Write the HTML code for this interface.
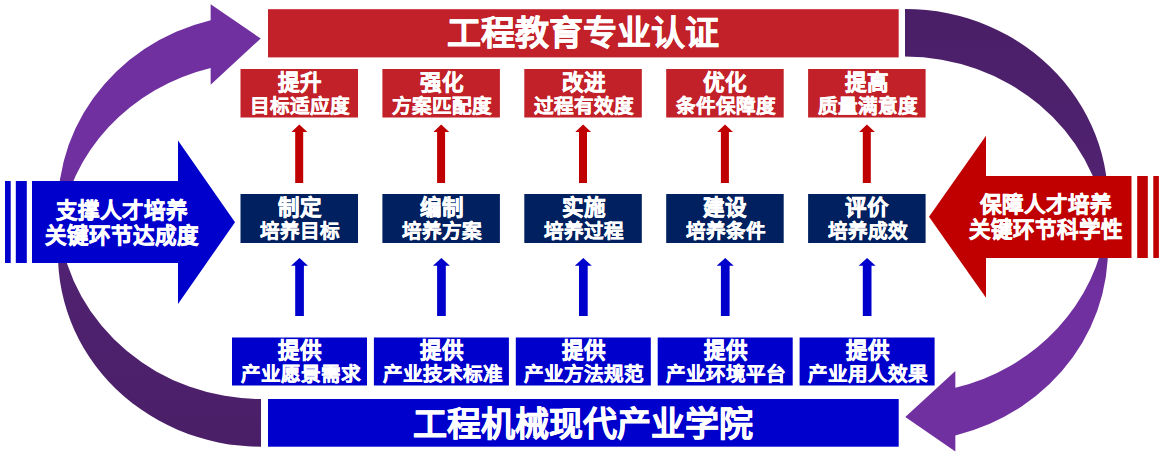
<!DOCTYPE html>
<html lang="zh-CN">
<head>
<meta charset="utf-8">
<title>工程教育专业认证</title>
<style>
html,body{margin:0;padding:0;background:#fff;}
body{width:1168px;height:457px;position:relative;overflow:hidden;font-family:"Liberation Sans",sans-serif;font-weight:bold;color:#fff;}
svg{position:absolute;left:0;top:0;}
.t{position:absolute;white-space:nowrap;text-align:justify;text-align-last:justify;-webkit-text-stroke:0.6px #fff;}
</style>
</head>
<body>
<svg width="1168" height="457" viewBox="0 0 1168 457">
<defs>
<linearGradient id="gL" gradientUnits="userSpaceOnUse" x1="0" y1="4" x2="0" y2="447">
<stop offset="0.37" stop-color="#7030A0"/>
<stop offset="0.6" stop-color="#502271"/>
<stop offset="1" stop-color="#4A1F67"/>
</linearGradient>
</defs>
<path fill="url(#gL)" d="M210.65 20.2 A203 192.4 0 0 0 59.56 230.45 A203 192.4 0 0 1 210.65 67.9 L210.65 84.7 L260.7 38.5 L210.65 4.2 Z M59.56 230.45 A203 192.4 0 0 0 261 446.7 L261 399 A203 192.4 0 0 1 59.56 230.45 Z"/>
<g transform="rotate(180 583 227.8)"><path fill="url(#gL)" d="M210.65 20.2 A203 192.4 0 0 0 59.56 230.45 A203 192.4 0 0 1 210.65 67.9 L210.65 84.7 L260.7 38.5 L210.65 4.2 Z M59.56 230.45 A203 192.4 0 0 0 261 446.7 L261 399 A203 192.4 0 0 1 59.56 230.45 Z"/></g>
<rect x="268" y="9.2" width="630.7" height="48.2" fill="#C32129"/>
<rect x="268" y="399" width="630.7" height="47.7" fill="#0000CC"/>
<rect x="5" y="181" width="5.7" height="82" fill="#0000CC"/>
<rect x="15.8" y="181" width="11" height="82" fill="#0000CC"/>
<path fill="#0000CC" d="M32 181 L178 181 L178 140.6 L235 222.2 L178 304 L178 263 L32 263 Z"/>
<rect x="1153.3" y="176" width="5.6" height="82" fill="#C00000"/>
<rect x="1137.2" y="176" width="10.6" height="82" fill="#C00000"/>
<path fill="#C00000" d="M1131.5 176 L986 176 L986 135.8 L929 216.8 L986 297.8 L986 258 L1131.5 258 Z"/>
<g transform="translate(0.0 0)">
<rect x="240.5" y="69" width="117.5" height="48.5" fill="#C32129"/>
<rect x="240.5" y="194" width="117.5" height="49" fill="#002060"/>
<rect x="232" y="337.5" width="135" height="48" fill="#0000CC"/>
<path fill="#C00000" d="M299.3 124.6 L307.3 132 L303.2 132 L303.2 183 L295.2 183 L295.2 132 L291.5 132 Z"/>
<path fill="#0000CC" d="M299.5 257.9 L308 265.7 L303.9 265.7 L303.9 316 L295.2 316 L295.2 265.7 L291 265.7 Z"/>
</g>
<g transform="translate(141.9 0)">
<rect x="240.5" y="69" width="117.5" height="48.5" fill="#C32129"/>
<rect x="240.5" y="194" width="117.5" height="49" fill="#002060"/>
<rect x="232" y="337.5" width="135" height="48" fill="#0000CC"/>
<path fill="#C00000" d="M299.3 124.6 L307.3 132 L303.2 132 L303.2 183 L295.2 183 L295.2 132 L291.5 132 Z"/>
<path fill="#0000CC" d="M299.5 257.9 L308 265.7 L303.9 265.7 L303.9 316 L295.2 316 L295.2 265.7 L291 265.7 Z"/>
</g>
<g transform="translate(283.8 0)">
<rect x="240.5" y="69" width="117.5" height="48.5" fill="#C32129"/>
<rect x="240.5" y="194" width="117.5" height="49" fill="#002060"/>
<rect x="232" y="337.5" width="135" height="48" fill="#0000CC"/>
<path fill="#C00000" d="M299.3 124.6 L307.3 132 L303.2 132 L303.2 183 L295.2 183 L295.2 132 L291.5 132 Z"/>
<path fill="#0000CC" d="M299.5 257.9 L308 265.7 L303.9 265.7 L303.9 316 L295.2 316 L295.2 265.7 L291 265.7 Z"/>
</g>
<g transform="translate(425.7 0)">
<rect x="240.5" y="69" width="117.5" height="48.5" fill="#C32129"/>
<rect x="240.5" y="194" width="117.5" height="49" fill="#002060"/>
<rect x="232" y="337.5" width="135" height="48" fill="#0000CC"/>
<path fill="#C00000" d="M299.3 124.6 L307.3 132 L303.2 132 L303.2 183 L295.2 183 L295.2 132 L291.5 132 Z"/>
<path fill="#0000CC" d="M299.5 257.9 L308 265.7 L303.9 265.7 L303.9 316 L295.2 316 L295.2 265.7 L291 265.7 Z"/>
</g>
<g transform="translate(567.6 0)">
<rect x="240.5" y="69" width="117.5" height="48.5" fill="#C32129"/>
<rect x="240.5" y="194" width="117.5" height="49" fill="#002060"/>
<rect x="232" y="337.5" width="135" height="48" fill="#0000CC"/>
<path fill="#C00000" d="M299.3 124.6 L307.3 132 L303.2 132 L303.2 183 L295.2 183 L295.2 132 L291.5 132 Z"/>
<path fill="#0000CC" d="M299.5 257.9 L308 265.7 L303.9 265.7 L303.9 316 L295.2 316 L295.2 265.7 L291 265.7 Z"/>
</g>
</svg>
<div class="t" style="left:447.35px;top:16.00px;width:272.00px;font-size:34px;line-height:34px;">工程教育专业认证</div>
<div class="t" style="left:413.35px;top:407.00px;width:340.00px;font-size:34px;line-height:34px;">工程机械现代产业学院</div>
<div class="t" style="left:55.50px;top:198.50px;width:129.00px;font-size:21.5px;line-height:25px;">支撑人才培养</div>
<div class="t" style="left:44.75px;top:223.50px;width:150.50px;font-size:21.5px;line-height:25px;">关键环节达成度</div>
<div class="t" style="left:979.50px;top:193.00px;width:129.00px;font-size:21.5px;line-height:25px;">保障人才培养</div>
<div class="t" style="left:968.75px;top:218.00px;width:150.50px;font-size:21.5px;line-height:25px;">关键环节科学性</div>
<div class="t" style="left:277.75px;top:73.20px;width:43.00px;font-size:21.5px;line-height:21px;">提升</div>
<div class="t" style="left:250.25px;top:97.00px;width:98.00px;font-size:19.6px;line-height:19px;-webkit-text-stroke:0.45px #fff;">目标适应度</div>
<div class="t" style="left:277.75px;top:198.30px;width:43.00px;font-size:21.5px;line-height:21px;">制定</div>
<div class="t" style="left:260.05px;top:222.00px;width:78.40px;font-size:19.6px;line-height:19px;-webkit-text-stroke:0.45px #fff;">培养目标</div>
<div class="t" style="left:277.95px;top:341.20px;width:43.00px;font-size:21.5px;line-height:21px;">提供</div>
<div class="t" style="left:240.65px;top:365.00px;width:117.60px;font-size:19.6px;line-height:19px;-webkit-text-stroke:0.45px #fff;">产业愿景需求</div>
<div class="t" style="left:419.65px;top:73.20px;width:43.00px;font-size:21.5px;line-height:21px;">强化</div>
<div class="t" style="left:392.15px;top:97.00px;width:98.00px;font-size:19.6px;line-height:19px;-webkit-text-stroke:0.45px #fff;">方案匹配度</div>
<div class="t" style="left:419.65px;top:198.30px;width:43.00px;font-size:21.5px;line-height:21px;">编制</div>
<div class="t" style="left:401.95px;top:222.00px;width:78.40px;font-size:19.6px;line-height:19px;-webkit-text-stroke:0.45px #fff;">培养方案</div>
<div class="t" style="left:419.85px;top:341.20px;width:43.00px;font-size:21.5px;line-height:21px;">提供</div>
<div class="t" style="left:382.55px;top:365.00px;width:117.60px;font-size:19.6px;line-height:19px;-webkit-text-stroke:0.45px #fff;">产业技术标准</div>
<div class="t" style="left:561.55px;top:73.20px;width:43.00px;font-size:21.5px;line-height:21px;">改进</div>
<div class="t" style="left:534.05px;top:97.00px;width:98.00px;font-size:19.6px;line-height:19px;-webkit-text-stroke:0.45px #fff;">过程有效度</div>
<div class="t" style="left:561.55px;top:198.30px;width:43.00px;font-size:21.5px;line-height:21px;">实施</div>
<div class="t" style="left:543.85px;top:222.00px;width:78.40px;font-size:19.6px;line-height:19px;-webkit-text-stroke:0.45px #fff;">培养过程</div>
<div class="t" style="left:561.75px;top:341.20px;width:43.00px;font-size:21.5px;line-height:21px;">提供</div>
<div class="t" style="left:524.45px;top:365.00px;width:117.60px;font-size:19.6px;line-height:19px;-webkit-text-stroke:0.45px #fff;">产业方法规范</div>
<div class="t" style="left:703.45px;top:73.20px;width:43.00px;font-size:21.5px;line-height:21px;">优化</div>
<div class="t" style="left:675.95px;top:97.00px;width:98.00px;font-size:19.6px;line-height:19px;-webkit-text-stroke:0.45px #fff;">条件保障度</div>
<div class="t" style="left:703.45px;top:198.30px;width:43.00px;font-size:21.5px;line-height:21px;">建设</div>
<div class="t" style="left:685.75px;top:222.00px;width:78.40px;font-size:19.6px;line-height:19px;-webkit-text-stroke:0.45px #fff;">培养条件</div>
<div class="t" style="left:703.65px;top:341.20px;width:43.00px;font-size:21.5px;line-height:21px;">提供</div>
<div class="t" style="left:666.35px;top:365.00px;width:117.60px;font-size:19.6px;line-height:19px;-webkit-text-stroke:0.45px #fff;">产业环境平台</div>
<div class="t" style="left:845.35px;top:73.20px;width:43.00px;font-size:21.5px;line-height:21px;">提高</div>
<div class="t" style="left:817.85px;top:97.00px;width:98.00px;font-size:19.6px;line-height:19px;-webkit-text-stroke:0.45px #fff;">质量满意度</div>
<div class="t" style="left:845.35px;top:198.30px;width:43.00px;font-size:21.5px;line-height:21px;">评价</div>
<div class="t" style="left:827.65px;top:222.00px;width:78.40px;font-size:19.6px;line-height:19px;-webkit-text-stroke:0.45px #fff;">培养成效</div>
<div class="t" style="left:845.55px;top:341.20px;width:43.00px;font-size:21.5px;line-height:21px;">提供</div>
<div class="t" style="left:808.25px;top:365.00px;width:117.60px;font-size:19.6px;line-height:19px;-webkit-text-stroke:0.45px #fff;">产业用人效果</div>
</body>
</html>
